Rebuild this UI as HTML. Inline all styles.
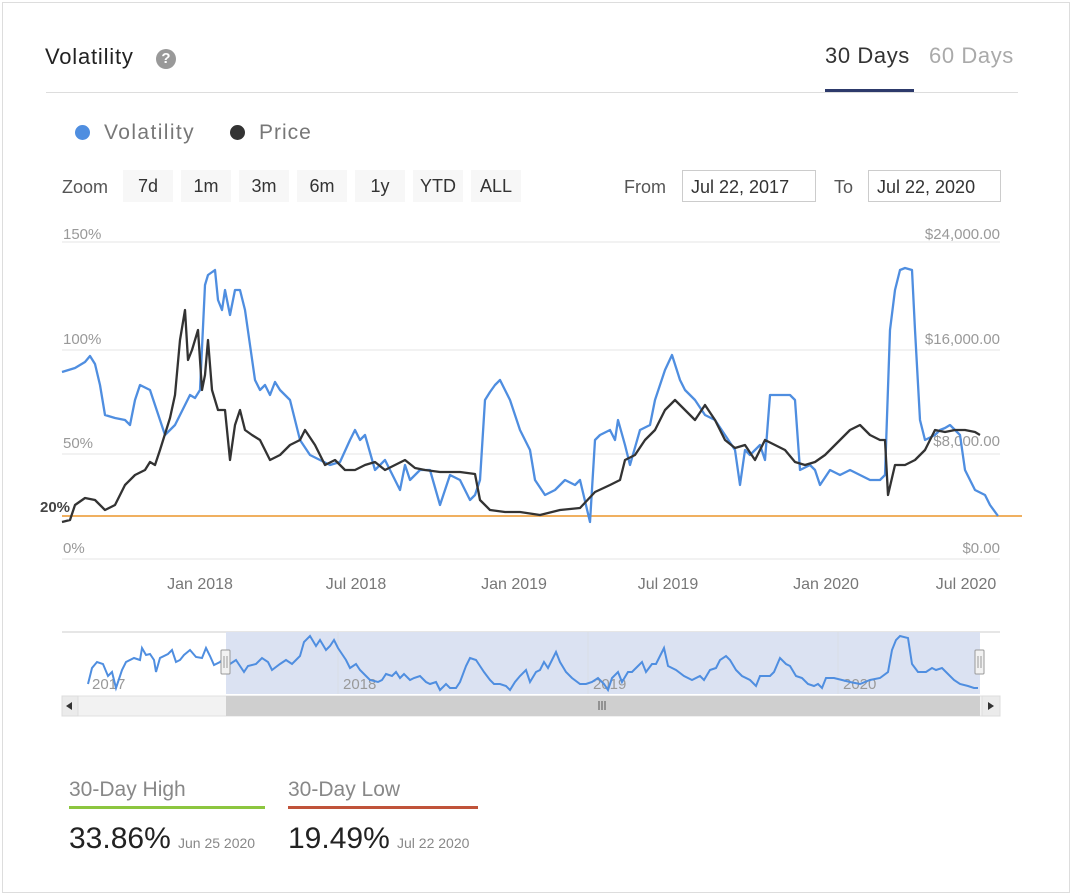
<!DOCTYPE html>
<html><head><meta charset="utf-8"><style>
body{margin:0;background:#fff;font-family:"Liberation Sans",sans-serif;}
.wrap{position:absolute;left:2px;top:2px;width:1066px;height:889px;border:1px solid #ddd;overflow:hidden;}
.a{position:absolute;white-space:nowrap;}
.btn{position:absolute;top:170px;height:32px;line-height:32px;background:#f7f7f7;color:#333;font-size:18px;text-align:center;}
.inp{position:absolute;top:170px;height:32px;line-height:32px;border:1px solid #ccc;font-size:18px;color:#333;padding-left:8px;box-sizing:border-box;}
</style></head><body>
<div class="wrap"></div>
<div class="a" style="left:45px;top:44px;font-size:22px;color:#222;letter-spacing:0.8px;">Volatility</div>
<div class="a" style="left:156px;top:49px;width:20px;height:20px;border-radius:50%;background:#999;color:#fff;font-size:15px;font-weight:bold;text-align:center;line-height:20px;">?</div>
<div class="a" style="left:825px;top:43px;font-size:22px;color:#333;letter-spacing:0.6px;">30 Days</div>
<div class="a" style="left:929px;top:43px;font-size:22px;color:#aaa;letter-spacing:0.6px;">60 Days</div>
<div class="a" style="left:46px;top:92px;width:972px;height:1px;background:#ddd;"></div>
<div class="a" style="left:825px;top:89px;width:89px;height:3px;background:#2d3a6b;"></div>
<div class="a" style="left:75px;top:125px;width:15px;height:15px;border-radius:50%;background:#4f8ee0;"></div>
<div class="a" style="left:104px;top:121px;font-size:21px;color:#777;letter-spacing:1.4px;">Volatility</div>
<div class="a" style="left:230px;top:125px;width:15px;height:15px;border-radius:50%;background:#333;"></div>
<div class="a" style="left:259px;top:121px;font-size:21px;color:#777;letter-spacing:1px;">Price</div>
<div class="a" style="left:62px;top:177px;font-size:18px;color:#555;">Zoom</div>
<div class="btn" style="left:123px;width:50px;">7d</div>
<div class="btn" style="left:181px;width:50px;">1m</div>
<div class="btn" style="left:239px;width:50px;">3m</div>
<div class="btn" style="left:297px;width:50px;">6m</div>
<div class="btn" style="left:355px;width:50px;">1y</div>
<div class="btn" style="left:413px;width:50px;">YTD</div>
<div class="btn" style="left:471px;width:50px;">ALL</div>
<div class="a" style="left:624px;top:177px;font-size:18px;color:#555;">From</div>
<div class="inp" style="left:682px;width:134px;">Jul 22, 2017</div>
<div class="a" style="left:834px;top:177px;font-size:18px;color:#555;">To</div>
<div class="inp" style="left:868px;width:133px;">Jul 22, 2020</div>

<svg class="a" style="left:0;top:0" width="1072" height="895" font-family="Liberation Sans, sans-serif">
<g stroke="#e6e6e6" stroke-width="1">
<line x1="62" y1="242" x2="1000" y2="242"/><line x1="62" y1="350" x2="1000" y2="350"/>
<line x1="62" y1="454" x2="1000" y2="454"/><line x1="62" y1="559" x2="1000" y2="559"/>
</g>
<g font-size="15" fill="#999">
<text x="63" y="239">150%</text><text x="63" y="344">100%</text><text x="63" y="448">50%</text><text x="63" y="553">0%</text>
<text x="1000" y="239" text-anchor="end">$24,000.00</text><text x="1000" y="344" text-anchor="end">$16,000.00</text>
<text x="1000" y="446" text-anchor="end">$8,000.00</text><text x="1000" y="553" text-anchor="end">$0.00</text>
</g>
<g font-size="16" fill="#777" text-anchor="middle">
<text x="200" y="589">Jan 2018</text><text x="356" y="589">Jul 2018</text><text x="514" y="589">Jan 2019</text>
<text x="668" y="589">Jul 2019</text><text x="826" y="589">Jan 2020</text><text x="966" y="589">Jul 2020</text>
</g>
<line x1="62" y1="516" x2="1022" y2="516" stroke="#f0b060" stroke-width="2"/>
<text x="40" y="512" font-size="15" fill="#444" font-weight="bold">20%</text>
<polyline fill="none" stroke="#4f8ee0" stroke-width="2.3" stroke-linejoin="round" points="62,372 75,368 85,362 90,356 95,364 100,385 105,415 115,418 125,420 130,425 135,400 140,385 150,390 155,405 160,420 165,435 175,425 185,405 190,395 195,398 200,390 205,285 208,275 215,270 218,300 222,310 225,290 230,315 235,290 240,290 245,310 255,380 260,390 265,385 270,395 275,382 280,390 290,400 300,440 310,455 320,460 330,465 340,462 350,440 355,430 360,440 365,435 375,470 385,460 400,490 405,465 410,480 420,470 430,470 440,505 450,475 460,480 470,500 475,495 480,480 485,400 490,392 495,385 500,380 505,390 510,400 520,430 530,450 535,480 545,495 555,490 565,480 575,485 580,480 590,522 595,440 600,435 610,430 615,440 618,420 625,445 630,465 640,430 650,425 655,400 665,370 672,355 680,380 685,390 695,400 705,415 715,420 725,435 735,450 740,485 745,450 750,455 760,445 765,460 770,395 780,395 790,395 795,400 800,470 810,465 815,470 820,485 830,470 840,475 850,470 860,475 870,480 880,480 885,475 890,330 895,290 900,270 905,268 912,270 915,330 920,420 925,440 935,435 940,430 945,428 950,425 955,430 960,435 965,470 975,490 985,495 990,505 998,516"/>
<polyline fill="none" stroke="#333" stroke-width="2.3" stroke-linejoin="round" points="62,522 70,520 75,505 85,498 95,500 105,510 115,505 125,485 135,475 145,470 150,462 155,465 160,450 170,418 175,395 180,340 185,310 188,360 192,350 198,330 202,390 205,375 208,340 212,390 218,410 225,410 230,460 235,425 240,410 245,430 252,435 260,440 270,460 280,455 290,445 300,440 305,430 315,445 325,465 335,460 345,470 355,470 365,465 375,462 385,470 395,465 405,460 415,468 425,470 440,472 460,472 475,474 480,500 490,510 505,512 520,512 540,515 560,510 580,508 595,492 610,485 620,480 625,460 635,455 645,440 655,430 665,410 675,400 685,410 695,420 705,405 715,420 725,440 735,448 745,445 755,460 765,440 775,445 785,450 795,462 805,465 815,462 825,455 840,440 850,430 860,425 870,435 880,440 885,440 888,495 895,465 905,465 915,460 925,450 935,430 945,432 955,430 965,430 975,432 980,435"/>
<!-- navigator -->
<line x1="62" y1="632" x2="1000" y2="632" stroke="#ccc"/>
<rect x="226" y="632" width="754" height="62" fill="#dbe2f2"/>
<g stroke="#d8dde6"><line x1="338" y1="632" x2="338" y2="694"/><line x1="588" y1="632" x2="588" y2="694"/><line x1="838" y1="632" x2="838" y2="694"/></g>
<g font-size="15" fill="#999"><text x="92" y="689">2017</text><text x="343" y="689">2018</text><text x="593" y="689">2019</text><text x="843" y="689">2020</text></g>
<polyline fill="none" stroke="#4f8ee0" stroke-width="2" points="88,684 92,668 97,662 103,664 108,676 112,672 116,688 122,670 126,662 134,658 140,660 142,648 146,655 150,654 154,660 156,672 160,658 168,654 172,650 176,662 180,660 184,655 190,650 196,657 202,658 206,648 210,656 214,665 220,662 226,656 230,664 236,660 240,666 244,672 248,666 256,664 262,658 268,662 272,670 280,664 286,660 292,664 296,660 300,656 304,642 310,636 316,646 320,640 326,650 330,646 334,640 338,648 342,654 346,660 350,668 356,664 360,670 366,676 370,680 378,682 382,680 386,674 392,676 396,672 400,678 404,674 410,680 414,678 420,676 426,682 430,684 436,682 440,690 446,684 450,688 456,688 460,682 466,666 470,658 476,660 480,666 484,672 490,680 494,684 500,684 506,686 510,690 515,682 520,676 526,670 530,682 536,672 540,670 544,662 548,668 556,652 560,662 566,672 572,678 580,684 586,684 592,682 598,678 604,684 608,690 612,678 618,672 622,682 628,672 632,672 636,668 642,662 646,672 652,664 656,664 660,656 664,648 668,666 676,670 684,676 692,680 700,676 704,680 710,670 716,668 720,660 726,656 730,660 736,670 742,676 750,680 756,686 760,676 770,676 774,672 780,658 786,664 790,666 796,676 802,678 808,684 814,686 818,684 822,688 826,678 834,678 842,680 850,682 860,684 870,680 880,678 888,672 892,650 896,640 900,636 908,638 912,664 918,672 926,672 932,668 936,670 942,668 948,674 954,680 960,684 968,686 974,688 978,688"/>
<g fill="#f2f2f2" stroke="#999"><rect x="221" y="650" width="9" height="24" rx="1"/><rect x="975" y="650" width="9" height="24" rx="1"/></g>
<g stroke="#999"><line x1="224" y1="656" x2="224" y2="668"/><line x1="227" y1="656" x2="227" y2="668"/><line x1="978" y1="656" x2="978" y2="668"/><line x1="981" y1="656" x2="981" y2="668"/></g>
<rect x="62" y="696" width="938" height="20" fill="#f2f2f2" stroke="#e0e0e0"/>
<rect x="226" y="696" width="754" height="20" fill="#cfcfcf"/>
<rect x="62" y="696" width="16" height="20" fill="#ebebeb" stroke="#ddd"/>
<rect x="982" y="696" width="18" height="20" fill="#ebebeb" stroke="#ddd"/>
<path d="M72,702 L66,706 L72,710 Z" fill="#333"/><path d="M988,702 L994,706 L988,710 Z" fill="#333"/>
<g stroke="#555"><line x1="599" y1="701" x2="599" y2="710"/><line x1="602" y1="701" x2="602" y2="710"/><line x1="605" y1="701" x2="605" y2="710"/></g>
<!-- stats -->
<text x="69" y="796" font-size="21" fill="#888">30-Day High</text>
<rect x="69" y="806" width="196" height="3" fill="#8cc63f"/>
<text x="69" y="848" font-size="30" fill="#222">33.86%</text>
<text x="178" y="848" font-size="14" fill="#888">Jun 25 2020</text>
<text x="288" y="796" font-size="21" fill="#888">30-Day Low</text>
<rect x="288" y="806" width="190" height="3" fill="#c0533a"/>
<text x="288" y="848" font-size="30" fill="#222">19.49%</text>
<text x="397" y="848" font-size="14" fill="#888">Jul 22 2020</text>
</svg>
</body></html>
